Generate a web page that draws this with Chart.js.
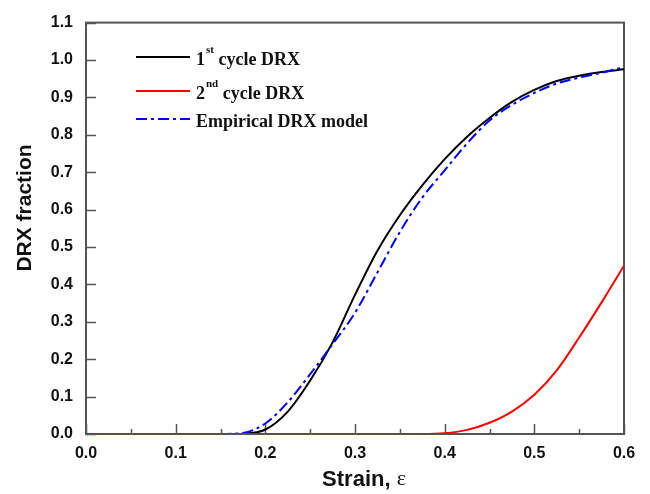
<!DOCTYPE html>
<html>
<head>
<meta charset="utf-8">
<script src="https://cdn.jsdelivr.net/npm/chart.js@4"></script>
<style>
    html, body { margin: 0; padding: 0; background: #fff; }
    #wrap { width: 650px; height: 494px; }
</style>
</head>
<body>
<div id="wrap"><canvas id="drxChart" width="650" height="494"></canvas></div>
<script>
// strain values (x) shared by all three curves
const strain = [0, 0.025, 0.05, 0.075, 0.1, 0.125, 0.15, 0.175, 0.2, 0.225, 0.25, 0.275, 0.3,
    0.325, 0.35, 0.375, 0.4, 0.425, 0.45, 0.475, 0.5, 0.525, 0.55, 0.575, 0.6];

const firstCycle = [null, null, null, null, null, null, 0, 0.001, 0.012, 0.06, 0.143, 0.245, 0.372,
    0.49, 0.585, 0.665, 0.735, 0.795, 0.845, 0.888, 0.92, 0.944, 0.958, 0.968, 0.975];

const secondCycle = [0, 0, 0, 0, 0, 0, 0, 0, 0, 0, 0, 0, 0,
    0, 0, 0, 0.002, 0.011, 0.03, 0.06, 0.105, 0.17, 0.258, 0.352, 0.45];

const empirical = [null, null, null, null, null, null, 0, 0.003, 0.028, 0.085, 0.16, 0.24, 0.324,
    0.432, 0.54, 0.632, 0.705, 0.777, 0.838, 0.88, 0.912, 0.937, 0.953, 0.966, 0.981];

const xTicks = [0, 0.1, 0.2, 0.3, 0.4, 0.5, 0.6];
const yTicks = [0, 0.1, 0.2, 0.3, 0.4, 0.5, 0.6, 0.7, 0.8, 0.9, 1.0, 1.1];

const legendItems = [
    { num: '1', sup: 'st', rest: ' cycle DRX' },
    { num: '2', sup: 'nd', rest: ' cycle DRX' },
    { num: 'Empirical DRX model', sup: '', rest: '' }
];

const AXIS_COLOR = '#555555';
const tickFont = { family: "'Liberation Sans', Arial, sans-serif", size: 16, weight: 'bold' };
const legendFont = "bold 18px 'Liberation Serif', 'Times New Roman', serif";

function toPoints(values) {
    return strain.map((x, i) => ({ x: x, y: values[i] }));
}

// frame, inward ticks, axis titles and the legend
const decorPlugin = {
    id: 'decor',
    beforeDatasetsDraw(chart) {
        const ctx = chart.ctx;
        const area = chart.chartArea;
        const xs = chart.scales.x;
        const ys = chart.scales.y;
        ctx.save();
        ctx.strokeStyle = AXIS_COLOR;
        ctx.lineWidth = 1.5;
        ctx.beginPath();
        for (let i = 0; i <= 12; i++) {
            const px = Math.round(xs.getPixelForValue(i * 0.05)) + 0.5;
            const len = i % 2 === 0 ? 10 : 5;
            ctx.moveTo(px, area.bottom);
            ctx.lineTo(px, area.bottom - len);
        }
        yTicks.forEach(v => {
            const py = Math.round(ys.getPixelForValue(v)) + 0.5;
            ctx.moveTo(area.left, py);
            ctx.lineTo(area.left + 10, py);
        });
        ctx.stroke();
        ctx.lineWidth = 2;
        ctx.strokeRect(area.left, area.top, area.right - area.left, area.bottom - area.top);
        ctx.restore();
    },
    afterDraw(chart) {
        const ctx = chart.ctx;
        const area = chart.chartArea;
        ctx.save();
        ctx.fillStyle = '#111';

        // x title: bold "Strain," plus a plain epsilon
        ctx.textBaseline = 'middle';
        ctx.textAlign = 'left';
        const boldPart = 'Strain, ';
        ctx.font = "bold 22px 'Liberation Sans', Arial, sans-serif";
        const w1 = ctx.measureText(boldPart).width;
        ctx.font = "22px 'Liberation Serif', 'Times New Roman', serif";
        const w2 = ctx.measureText('ε').width;
        const startX = (area.left + area.right) / 2 - (w1 + w2) / 2 + 9;
        ctx.font = "bold 22px 'Liberation Sans', Arial, sans-serif";
        ctx.fillText(boldPart, startX, 480);
        ctx.font = "22px 'Liberation Serif', 'Times New Roman', serif";
        ctx.fillText('ε', startX + w1, 479);

        // y title
        ctx.save();
        ctx.translate(25, 208);
        ctx.rotate(-Math.PI / 2);
        ctx.textAlign = 'center';
        ctx.font = "bold 21px 'Liberation Sans', Arial, sans-serif";
        ctx.fillText('DRX fraction', 0, 0);
        ctx.restore();

        // legend
        const rowY = [57, 91, 119];
        const lineX0 = 136, lineX1 = 190, textX = 196;
        chart.data.datasets.forEach((ds, i) => {
            const y = rowY[i];
            ctx.save();
            ctx.strokeStyle = ds.borderColor;
            ctx.lineWidth = ds.borderWidth;
            ctx.setLineDash(ds.borderDash || []);
            ctx.beginPath();
            ctx.moveTo(lineX0, y);
            ctx.lineTo(lineX1, y);
            ctx.stroke();
            ctx.restore();

            const item = legendItems[i];
            ctx.textAlign = 'left';
            ctx.textBaseline = 'alphabetic';
            ctx.fillStyle = '#111';
            let tx = textX;
            ctx.font = legendFont;
            ctx.fillText(item.num, tx, y + 8);
            tx += ctx.measureText(item.num).width + 1;
            if (item.sup) {
                ctx.font = "bold 11px 'Liberation Serif', 'Times New Roman', serif";
                ctx.fillText(item.sup, tx, y - 4);
                tx += ctx.measureText(item.sup).width;
                ctx.font = legendFont;
                ctx.fillText(item.rest, tx, y + 8);
            }
        });
        ctx.restore();
    }
};

const chart = new Chart(document.getElementById('drxChart').getContext('2d'), {
    type: 'line',
    data: {
        datasets: [{
            label: '1st cycle DRX',
            data: toPoints(firstCycle),
            borderColor: '#000000',
            borderWidth: 2,
            order: 2
        }, {
            label: '2nd cycle DRX',
            data: toPoints(secondCycle),
            borderColor: '#ff0000',
            borderWidth: 2,
            order: 0
        }, {
            label: 'Empirical DRX model',
            data: toPoints(empirical),
            borderColor: '#0000ff',
            borderWidth: 2,
            borderDash: [11, 4, 3, 4],
            order: 1
        }]
    },
    options: {
        responsive: false,
        animation: false,
        devicePixelRatio: 1,
        layout: { padding: { left: 0, top: 18, right: 26, bottom: 0 } },
        elements: {
            point: { radius: 0 },
            line: { cubicInterpolationMode: 'monotone', fill: false }
        },
        plugins: {
            legend: { display: false },
            tooltip: { enabled: false }
        },
        scales: {
            x: {
                type: 'linear',
                min: 0,
                max: 0.6,
                afterFit: scale => { scale.height = 60; },
                afterBuildTicks: scale => { scale.ticks = xTicks.map(v => ({ value: v })); },
                grid: { display: false, drawTicks: false },
                border: { display: false },
                ticks: {
                    padding: 10,
                    color: '#111',
                    font: tickFont,
                    maxRotation: 0,
                    callback: v => Number(v).toFixed(1)
                }
            },
            y: {
                type: 'linear',
                min: 0,
                max: 1.1,
                afterFit: scale => { scale.width = 86; },
                afterBuildTicks: scale => { scale.ticks = yTicks.map(v => ({ value: v })); },
                grid: { display: false, drawTicks: false },
                border: { display: false },
                ticks: {
                    padding: 13,
                    color: '#111',
                    font: tickFont,
                    callback: v => Number(v).toFixed(1)
                }
            }
        }
    },
    plugins: [decorPlugin]
});
</script>
</body>
</html>
